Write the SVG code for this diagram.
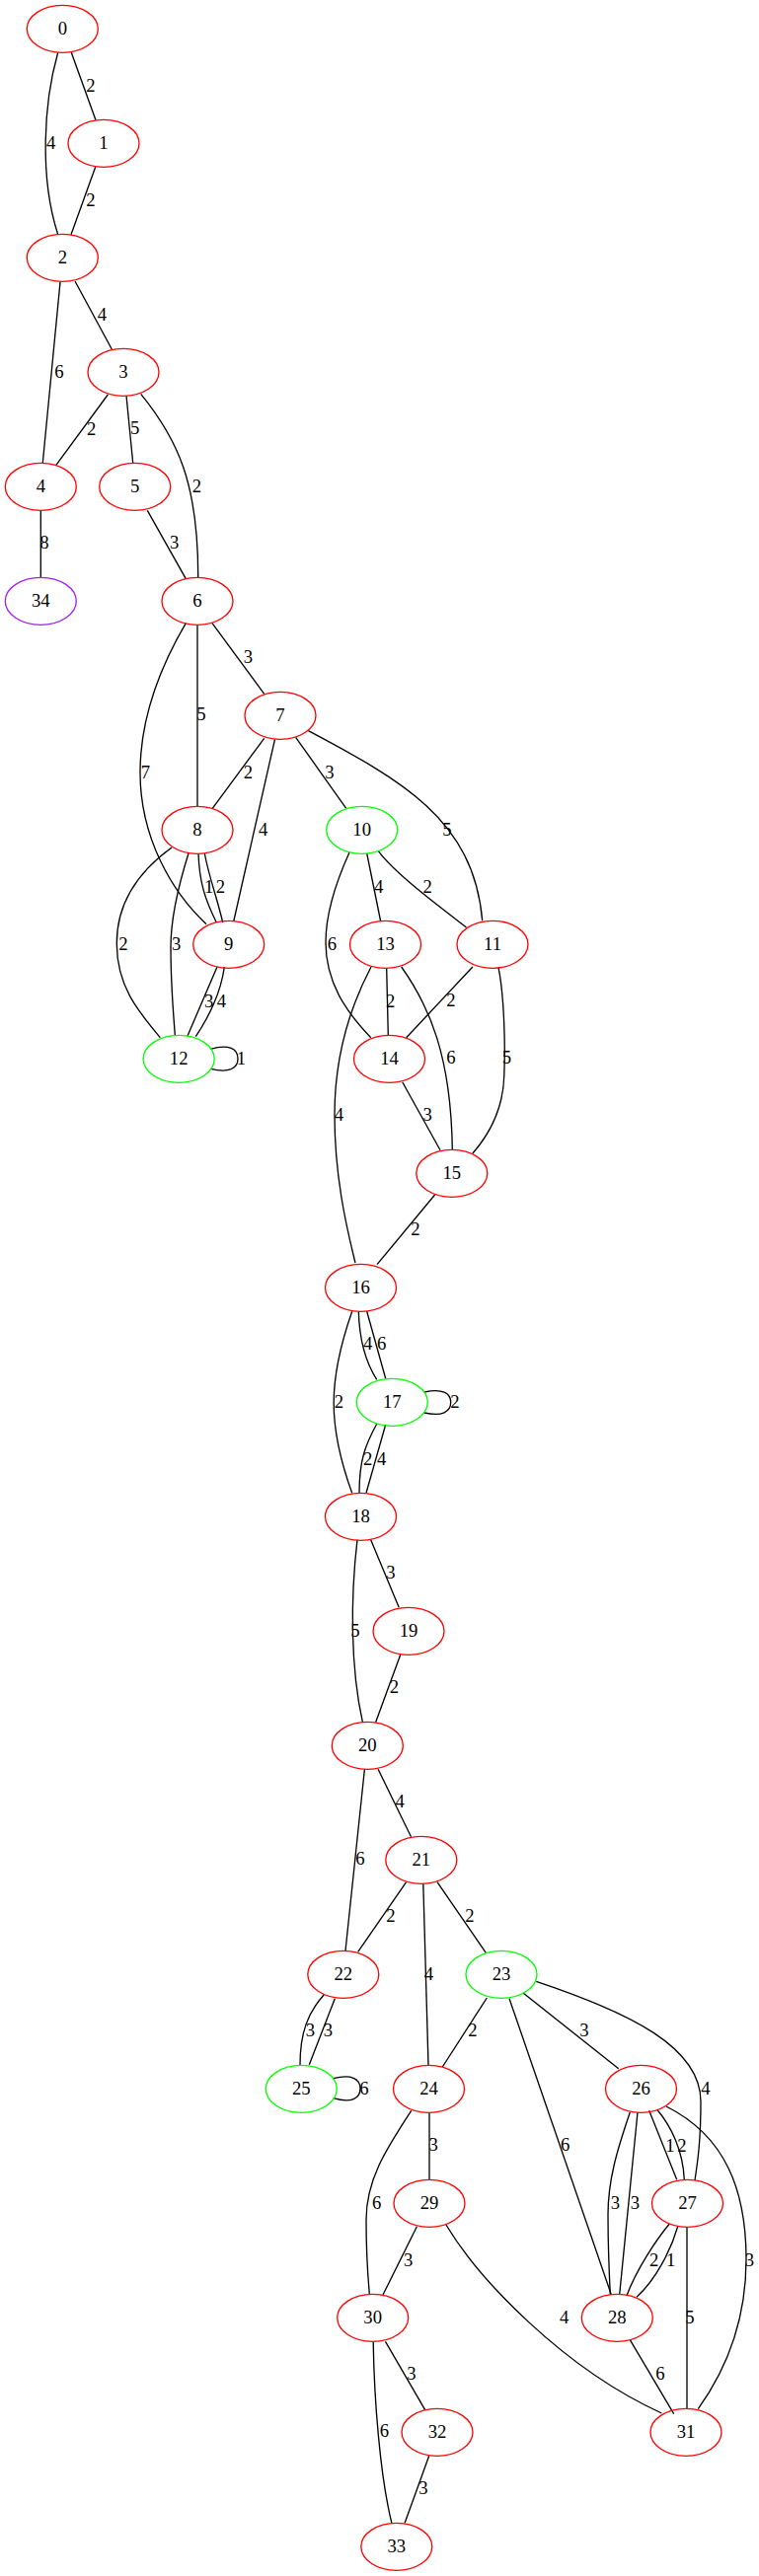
<svg xmlns="http://www.w3.org/2000/svg" width="769" height="2611" viewBox="0 0 769 2611">
<style>
text{font-family:"Liberation Serif","Times New Roman",serif;font-size:18.67px;text-anchor:middle;fill:#000}
ellipse{fill:none;stroke-width:1.33}
.r{stroke:#ff0000}.g{stroke:#00ff00}.p{stroke:#a020f0}
#edges path{fill:none;stroke:#000;stroke-width:1.33}
</style>
<rect width="769" height="2611" fill="#fff"/>
<g id="edges">
<g id="e0-1"><path d="M72.3,53.3 L97,121.7"/><text x="92" y="93.3">2</text></g>
<g id="e0-2"><path d="M58.7,53.3 C44,105 40,180 58.7,237.7"/><text x="51.7" y="151.3">4</text></g>
<g id="e1-2"><path d="M96.7,169.3 L72,237.7"/><text x="92" y="208.5">2</text></g>
<g id="e2-3"><path d="M76,285 L113.3,354"/><text x="103.3" y="325.3">4</text></g>
<g id="e2-4"><path d="M61,285.7 L43.3,469.3"/><text x="60" y="383">6</text></g>
<g id="e3-4"><path d="M109.3,400 L56.7,471.7"/><text x="92.7" y="441.3">2</text></g>
<g id="e3-5"><path d="M128,401 L134.7,469.3"/><text x="136.7" y="440.3">5</text></g>
<g id="e3-6"><path d="M142.7,399.3 C180,445 201,490 200.7,585.3"/><text x="199.3" y="499">2</text></g>
<g id="e5-6"><path d="M149.3,517.3 L188.3,586.7"/><text x="176.7" y="556.3">3</text></g>
<g id="e4-34"><path d="M41.3,517.3 L41.3,585.3"/><text x="45" y="556.3">8</text></g>
<g id="e6-7"><path d="M215,631.7 L267.7,703.3"/><text x="251.5" y="672.3">3</text></g>
<g id="e6-8"><path d="M200,633.3 L200,817.3"/><text x="203.8" y="730.3">5</text></g>
<g id="e6-9"><path d="M188.3,631.7 C160,680 142,730 142,783 C142,850 175,905 209,936.7"/><text x="147.3" y="789">7</text></g>
<g id="e7-8"><path d="M267.7,748.3 L215.3,819.3"/><text x="251.5" y="789">2</text></g>
<g id="e7-9"><path d="M278.5,749.3 L236.7,934"/><text x="266.7" y="847.3">4</text></g>
<g id="e7-10"><path d="M299.6,747.3 L350.7,819.3"/><text x="334" y="789">3</text></g>
<g id="e7-11"><path d="M312.4,740.7 C405,790 480,830 488.7,933.3"/><text x="452.8" y="847.3">5</text></g>
<g id="e8-9a"><path d="M201,865 C202,895 208,912 219.3,935"/><text x="211.7" y="904.5">1</text></g>
<g id="e8-9b"><path d="M207.3,865 C212,890 220,910 225.7,935"/><text x="223.3" y="904.5">2</text></g>
<g id="e8-12a"><path d="M174,859 C145,880 118,910 118.3,956.7 C118.5,1000 140,1025 162.3,1051.7"/><text x="125" y="963">2</text></g>
<g id="e8-12b"><path d="M191,865 C180,900 173,930 173,960 C173,1000 176,1030 177.3,1049.3"/><text x="178.7" y="963">3</text></g>
<g id="e9-12a"><path d="M220,980 L190,1050"/><text x="211.7" y="1021">3</text></g>
<g id="e9-12b"><path d="M227.3,980 C224,1005 212,1030 198.3,1050.7"/><text x="224.3" y="1021">4</text></g>
<g id="e12-12"><path d="M213.3,1063.3 C232,1058 241,1063 241,1073.3 C241,1083 232,1088 213.3,1083.3"/><text x="244.3" y="1079.3">1</text></g>
<g id="e10-13"><path d="M371.7,865 L385.7,934"/><text x="383.7" y="904.5">4</text></g>
<g id="e10-11"><path d="M383.3,862.7 C400,885 440,915 472.5,940"/><text x="433.2" y="904.5">2</text></g>
<g id="e10-14"><path d="M354,864 C340,895 330,925 330,955 C330,995 350,1025 375.7,1051.7"/><text x="336.3" y="963">6</text></g>
<g id="e13-14"><path d="M391.7,981.7 L393.3,1049.3"/><text x="395.7" y="1021">2</text></g>
<g id="e13-15"><path d="M406.7,980 C435,1020 457,1070 458.3,1165"/><text x="456.8" y="1077.7">6</text></g>
<g id="e13-16"><path d="M376,980 C355,1020 339,1070 339,1130 C339,1190 350,1240 360,1280"/><text x="343.3" y="1136">4</text></g>
<g id="e11-14"><path d="M478.9,980 L411.7,1051.7"/><text x="456.8" y="1020">2</text></g>
<g id="e11-15"><path d="M505,980.7 C511,1010 512,1060 510.8,1090 C510,1120 500,1145 478.9,1169"/><text x="513.3" y="1077.7">5</text></g>
<g id="e14-15"><path d="M407.7,1096.7 L446,1165.7"/><text x="433.2" y="1136">3</text></g>
<g id="e15-16"><path d="M440.6,1211 L382,1281.7"/><text x="421" y="1252">2</text></g>
<g id="e16-17a"><path d="M363.3,1329.3 C364,1355 370,1380 381.7,1398.3"/><text x="372.7" y="1368.3">4</text></g>
<g id="e16-17b"><path d="M371.7,1329.3 L390.7,1397.3"/><text x="386.7" y="1368.3">6</text></g>
<g id="e16-18"><path d="M356.7,1329.3 C332,1400 332,1445 356.7,1513.3"/><text x="343.3" y="1427.3">2</text></g>
<g id="e17-17"><path d="M430,1411 C448,1407 456.7,1412 456.7,1421.3 C456.7,1431 448,1436 430,1432"/><text x="461" y="1427.3">2</text></g>
<g id="e17-18a"><path d="M381.7,1443.3 C370,1465 364,1480 364,1513.3"/><text x="372.7" y="1485.3">2</text></g>
<g id="e17-18b"><path d="M390.7,1444 L371,1513.3"/><text x="386.7" y="1485.3">4</text></g>
<g id="e18-19"><path d="M375.7,1560.7 L404.2,1629.3"/><text x="395.9" y="1600">3</text></g>
<g id="e18-20"><path d="M362,1560.7 C355,1620 355,1690 367.4,1745.7"/><text x="360" y="1659.3">5</text></g>
<g id="e19-20"><path d="M405.7,1677.3 L380.6,1745.7"/><text x="399.3" y="1716">2</text></g>
<g id="e20-21"><path d="M383.1,1793.3 L416.5,1861.7"/><text x="405.2" y="1832">4</text></g>
<g id="e20-22"><path d="M369.4,1793.3 L350,1977.3"/><text x="365" y="1890.3">6</text></g>
<g id="e21-22"><path d="M411.6,1907.7 L362.7,1978.3"/><text x="395.9" y="1948.3">2</text></g>
<g id="e21-23"><path d="M443,1907.7 L492.3,1979.3"/><text x="476" y="1948.3">2</text></g>
<g id="e21-24"><path d="M428.8,1909.3 L434,2093.3"/><text x="434.3" y="2007.3">4</text></g>
<g id="e22-25a"><path d="M328.3,2021.7 C312,2040 304,2060 304,2093.3"/><text x="314.3" y="2064.3">3</text></g>
<g id="e22-25b"><path d="M339.3,2025.7 L313.3,2092.7"/><text x="332.3" y="2064.3">3</text></g>
<g id="e25-25"><path d="M337.7,2106.7 C356,2102 365,2107 365,2117 C365,2127 356,2132 337.7,2126.7"/><text x="369" y="2123.3">6</text></g>
<g id="e23-24"><path d="M493.3,2025 L448.3,2095"/><text x="479" y="2064.3">2</text></g>
<g id="e23-26"><path d="M530,2020 L626.7,2096.7"/><text x="591.8" y="2064.3">3</text></g>
<g id="e23-27"><path d="M543.3,2008.3 C638,2040 710,2075 710,2130 C710,2170 707,2190 704,2210"/><text x="715" y="2123">4</text></g>
<g id="e23-28"><path d="M516,2025.7 L619.3,2325.7"/><text x="572.7" y="2180.3">6</text></g>
<g id="e24-29"><path d="M435,2141.3 L435,2209.3"/><text x="439.1" y="2180.3">3</text></g>
<g id="e24-30"><path d="M416.7,2139.3 C390,2180 371,2210 371,2250 C371,2290 373,2310 374.3,2325"/><text x="381.6" y="2239">6</text></g>
<g id="e26-28a"><path d="M638.3,2141 C625,2180 616,2210 616,2245 C616,2280 617,2300 618.3,2325.7"/><text x="623.3" y="2239">3</text></g>
<g id="e26-28b"><path d="M646,2141 L627.7,2325.7"/><text x="643.3" y="2239">3</text></g>
<g id="e26-27a"><path d="M657.7,2139.3 L685.7,2209.3"/><text x="679" y="2181.3">1</text></g>
<g id="e26-27b"><path d="M665.7,2138.3 C680,2155 692,2180 693.3,2209.3"/><text x="691" y="2181.3">2</text></g>
<g id="e26-31"><path d="M675,2135 C735,2165 756,2220 756,2290 C756,2360 730,2410 707.3,2441.7"/><text x="759.3" y="2297">3</text></g>
<g id="e27-28a"><path d="M678.3,2254 C665,2270 645,2300 635,2326.7"/><text x="662.7" y="2297">2</text></g>
<g id="e27-28b"><path d="M686.7,2256.7 C680,2280 665,2310 645,2328.3"/><text x="679.7" y="2297">1</text></g>
<g id="e27-31"><path d="M696,2257.3 L696,2441.3"/><text x="699" y="2354.5">5</text></g>
<g id="e29-30"><path d="M422.4,2256.7 L388,2326"/><text x="413.6" y="2297">3</text></g>
<g id="e29-31"><path d="M451.9,2255 C485,2310 570,2400 670.4,2446"/><text x="571.7" y="2354.5">4</text></g>
<g id="e28-31"><path d="M638.3,2371.7 L682.7,2446.7"/><text x="669" y="2412.3">6</text></g>
<g id="e30-32"><path d="M390.5,2373.3 L430.7,2442.7"/><text x="417" y="2412.3">3</text></g>
<g id="e30-33"><path d="M378.2,2374 C379,2430 385,2510 396.9,2557.3"/><text x="389.5" y="2470.3">6</text></g>
<g id="e32-33"><path d="M434.7,2489.3 L410.1,2557.3"/><text x="428.8" y="2528">3</text></g>
</g>
<g id="nodes">
<g id="n0"><ellipse class="r" cx="63.3" cy="29.3" rx="36" ry="24"/><text x="63.3" y="35.3">0</text></g>
<g id="n1"><ellipse class="r" cx="105" cy="145.3" rx="36" ry="24"/><text x="105" y="151.3">1</text></g>
<g id="n2"><ellipse class="r" cx="63.3" cy="261.3" rx="36" ry="24"/><text x="63.3" y="267.3">2</text></g>
<g id="n3"><ellipse class="r" cx="125" cy="377.3" rx="36" ry="24"/><text x="125" y="383.3">3</text></g>
<g id="n4"><ellipse class="r" cx="41.3" cy="493.3" rx="36" ry="24"/><text x="41.3" y="499.3">4</text></g>
<g id="n5"><ellipse class="r" cx="136.7" cy="493.3" rx="36" ry="24"/><text x="136.7" y="499.3">5</text></g>
<g id="n34"><ellipse class="p" cx="41.3" cy="609.3" rx="36" ry="24"/><text x="41.3" y="615.3">34</text></g>
<g id="n6"><ellipse class="r" cx="200" cy="609.3" rx="36" ry="24"/><text x="200" y="615.3">6</text></g>
<g id="n7"><ellipse class="r" cx="284" cy="725.3" rx="36" ry="24"/><text x="284" y="731.3">7</text></g>
<g id="n8"><ellipse class="r" cx="200" cy="841.3" rx="36" ry="24"/><text x="200" y="847.3">8</text></g>
<g id="n10"><ellipse class="g" cx="366.7" cy="841.3" rx="36" ry="24"/><text x="366.7" y="847.3">10</text></g>
<g id="n9"><ellipse class="r" cx="231.7" cy="957.3" rx="36" ry="24"/><text x="231.7" y="963.3">9</text></g>
<g id="n13"><ellipse class="r" cx="390.5" cy="957.3" rx="36" ry="24"/><text x="390.5" y="963.3">13</text></g>
<g id="n11"><ellipse class="r" cx="499" cy="957.3" rx="36" ry="24"/><text x="499" y="963.3">11</text></g>
<g id="n12"><ellipse class="g" cx="181.2" cy="1073.3" rx="36" ry="24"/><text x="181.2" y="1079.3">12</text></g>
<g id="n14"><ellipse class="r" cx="394.5" cy="1073.3" rx="36" ry="24"/><text x="394.5" y="1079.3">14</text></g>
<g id="n15"><ellipse class="r" cx="457.8" cy="1189.3" rx="36" ry="24"/><text x="457.8" y="1195.3">15</text></g>
<g id="n16"><ellipse class="r" cx="365.5" cy="1305.3" rx="36" ry="24"/><text x="365.5" y="1311.3">16</text></g>
<g id="n17"><ellipse class="g" cx="397.3" cy="1421.3" rx="36" ry="24"/><text x="397.3" y="1427.3">17</text></g>
<g id="n18"><ellipse class="r" cx="365.5" cy="1537.3" rx="36" ry="24"/><text x="365.5" y="1543.3">18</text></g>
<g id="n19"><ellipse class="r" cx="414" cy="1653.3" rx="36" ry="24"/><text x="414" y="1659.3">19</text></g>
<g id="n20"><ellipse class="r" cx="372.3" cy="1769.3" rx="36" ry="24"/><text x="372.3" y="1775.3">20</text></g>
<g id="n21"><ellipse class="r" cx="426.8" cy="1885.3" rx="36" ry="24"/><text x="426.8" y="1891.3">21</text></g>
<g id="n22"><ellipse class="r" cx="347.8" cy="2001.3" rx="36" ry="24"/><text x="347.8" y="2007.3">22</text></g>
<g id="n23"><ellipse class="g" cx="508" cy="2001.3" rx="36" ry="24"/><text x="508" y="2007.3">23</text></g>
<g id="n25"><ellipse class="g" cx="305.3" cy="2117.3" rx="36" ry="24"/><text x="305.3" y="2123.3">25</text></g>
<g id="n24"><ellipse class="r" cx="434.5" cy="2117.3" rx="36" ry="24"/><text x="434.5" y="2123.3">24</text></g>
<g id="n26"><ellipse class="r" cx="649.5" cy="2117.3" rx="36" ry="24"/><text x="649.5" y="2123.3">26</text></g>
<g id="n29"><ellipse class="r" cx="435" cy="2233.3" rx="36" ry="24"/><text x="435" y="2239.3">29</text></g>
<g id="n27"><ellipse class="r" cx="696.5" cy="2233.3" rx="36" ry="24"/><text x="696.5" y="2239.3">27</text></g>
<g id="n30"><ellipse class="r" cx="377.7" cy="2349.3" rx="36" ry="24"/><text x="377.7" y="2355.3">30</text></g>
<g id="n28"><ellipse class="r" cx="625.3" cy="2349.3" rx="36" ry="24"/><text x="625.3" y="2355.3">28</text></g>
<g id="n32"><ellipse class="r" cx="443" cy="2465.3" rx="36" ry="24"/><text x="443" y="2471.3">32</text></g>
<g id="n31"><ellipse class="r" cx="695" cy="2465.3" rx="36" ry="24"/><text x="695" y="2471.3">31</text></g>
<g id="n33"><ellipse class="r" cx="401.8" cy="2581.3" rx="36" ry="24"/><text x="401.8" y="2587.3">33</text></g>
</g>
</svg>
